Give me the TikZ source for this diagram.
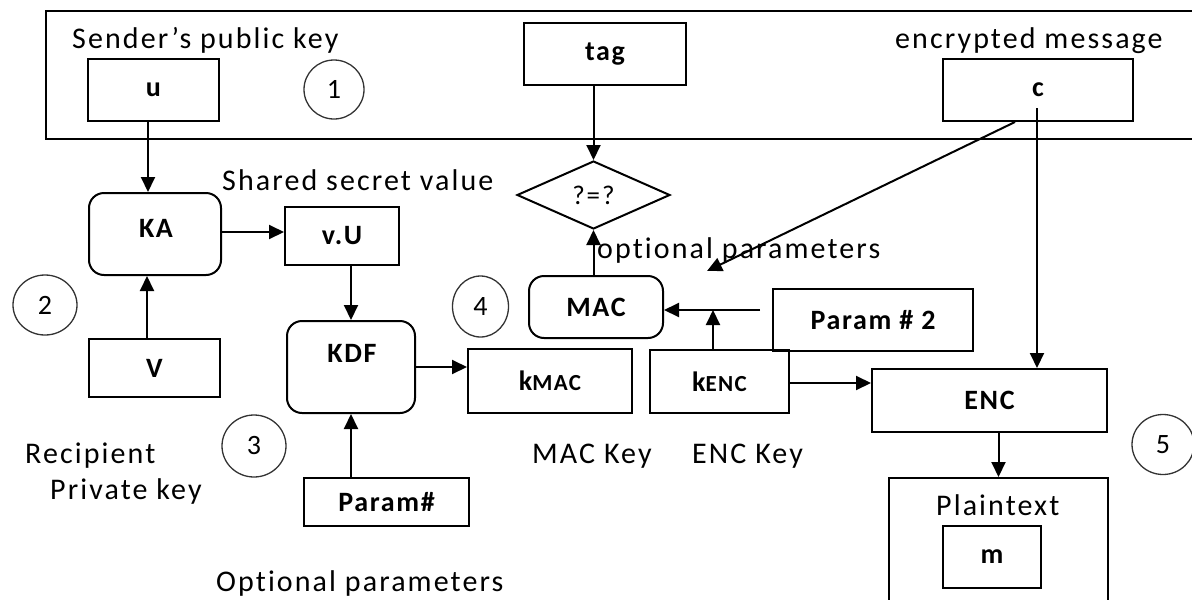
\documentclass[tikz,border=0pt]{standalone}
\usepackage{fontspec}
\setmainfont{Carlito}[Ligatures=NoCommon]
\newfontfamily\annfont{Carlito}[LetterSpace=7,Ligatures=NoCommon]
\newfontfamily\lblfont{Carlito}[LetterSpace=6,Ligatures=NoCommon]
\usetikzlibrary{shapes.geometric,arrows.meta}
\begin{document}
\begin{tikzpicture}[x=1pt,y=-1pt,
  bx/.style={draw, line width=2pt, inner sep=0pt, font=\lblfont\bfseries\fontsize{28}{32}\selectfont},
  rbx/.style={bx, rounded corners=15pt},
  circ/.style={draw=black!80, ellipse, line width=1.3pt, inner sep=0pt, font=\annfont\fontsize{28}{30}\selectfont},
  ann/.style={font=\annfont\fontsize{30}{34}\selectfont, inner sep=0pt, anchor=base west},
  arr/.style={line width=2pt, -{Triangle[length=15pt,width=14pt]}},
  ln/.style={line width=2pt}]
\useasboundingbox (0,0) rectangle (1192,600);
\clip (0,0) rectangle (1192,600);
% frame
\node[draw, line width=2pt, minimum width=1160, minimum height=128, inner sep=0pt] (frame) at (626,75) {};
% top row
\node[bx, minimum width=131, minimum height=62] (u) at (153.5,90) {u};
\node[circ, minimum width=60, minimum height=59] (c1) at (334,89.5) {1};
\node[bx, minimum width=162, minimum height=62] (tag) at (605,54) {tag};
\node[bx, minimum width=190, minimum height=62] (c) at (1038,90) {c};
\node[ann] (t1) at (72,48) {Sender’s public key};
\node[ann] (t2) at (895,48) {encrypted message};
% left
\node[rbx, minimum width=132, minimum height=82] (KA) at (155,234) {};
\node[font=\lblfont\bfseries\fontsize{28}{32}\selectfont] (KAl) at (156,228) {KA};
\node[bx, minimum width=114, minimum height=58] (vU) at (342,236) {v.U};
\node[bx, minimum width=131, minimum height=58] (V) at (154.5,368) {V};
\node[circ, minimum width=64, minimum height=60] (c2) at (45,305) {2};
\node[ann] (t3) at (222,190) {Shared secret value};
\node[rbx, minimum width=128, minimum height=92] (KDF) at (351,367) {};
\node[font=\lblfont\bfseries\fontsize{28}{32}\selectfont] (KDFl) at (352,353) {KDF};
\node[circ, minimum width=64, minimum height=62] (c3) at (254,446) {3};
\node[bx, minimum width=165, minimum height=48] (par) at (386.5,502) {Param\#};
\node[ann] (t4) at (25,463) {Recipient};
\node[ann] (t5) at (50,499) {Private key};
\node[ann] (t6) at (216,591) {Optional parameters};
% middle
\node[draw, diamond, line width=2pt, inner sep=0pt, minimum width=153, minimum height=68, font=\annfont\fontsize{27}{28}\selectfont] (d) at (593.5,195) {?=?};
\node[rbx, minimum width=134, minimum height=62] (MAC) at (596,307) {MAC};
\node[circ, minimum width=56, minimum height=61] (c4) at (480.5,306.5) {4};
\node[ann] (t7) at (597,258) {optional parameters};
\node[bx, minimum width=164, minimum height=64] (kmac) at (550,381) {k{\fontsize{23}{24}\selectfont MAC}};
\node[bx, minimum width=139, minimum height=63] (kenc) at (719.5,381.5) {k{\fontsize{23}{24}\selectfont ENC}};
\node[bx, minimum width=200, minimum height=62] (p2) at (873,320) {Param \# 2};
\node[ann] (t8) at (532,463) {MAC Key};
\node[ann] (t9) at (692,463) {ENC Key};
% right
\node[bx, minimum width=235, minimum height=63] (ENC) at (989.5,400.5) {ENC};
\node[draw, line width=2pt, inner sep=0pt, minimum width=219, minimum height=140] (pt) at (998.5,548) {};
\node[ann] (t10) at (936,515) {Plaintext};
\node[bx, minimum width=98, minimum height=62] (m) at (992,557) {m};
\node[circ, minimum width=62, minimum height=60] (c5) at (1163,444.5) {5};
% connectors
\coordinate (cin) at (1037,108);
\coordinate (ctip) at (707,271);
\coordinate (pj) at (760,310);
\draw[arr] ([xshift=-5.5pt]u.south) -- ([xshift=-5.5pt]u.south |- KA.north);
\draw[arr] ([xshift=-7.5pt]V.north) -- ([xshift=-7.5pt]V.north |- KA.south);
\draw[arr] (KA.east |- 0,232) -- (vU.west |- 0,232);
\draw[arr] (KDF.north |- vU.south) -- (KDF.north);
\draw[arr] (KDF.south |- par.north) -- (KDF.south);
\draw[arr] (KDF.east) -- (KDF.east -| kmac.west);
\draw[arr] (d.north |- tag.south) -- (d.north);
\draw[arr] (d.south |- MAC.north) -- (d.south);
\draw[arr] ([xshift=-23pt]c.south) -- (ctip);
\draw[arr] (pj) -- (pj -| MAC.east);
\draw[arr] ([xshift=-6.5pt]kenc.north) -- ([xshift=-6.5pt]kenc.north |- pj);
\draw[arr] (kenc.east |- 0,383) -- (ENC.west |- 0,383);
\draw[arr] (cin) -- (cin |- ENC.north);
\draw[arr] (pt.north |- ENC.south) -- (pt.north);
\end{tikzpicture}
\end{document}
